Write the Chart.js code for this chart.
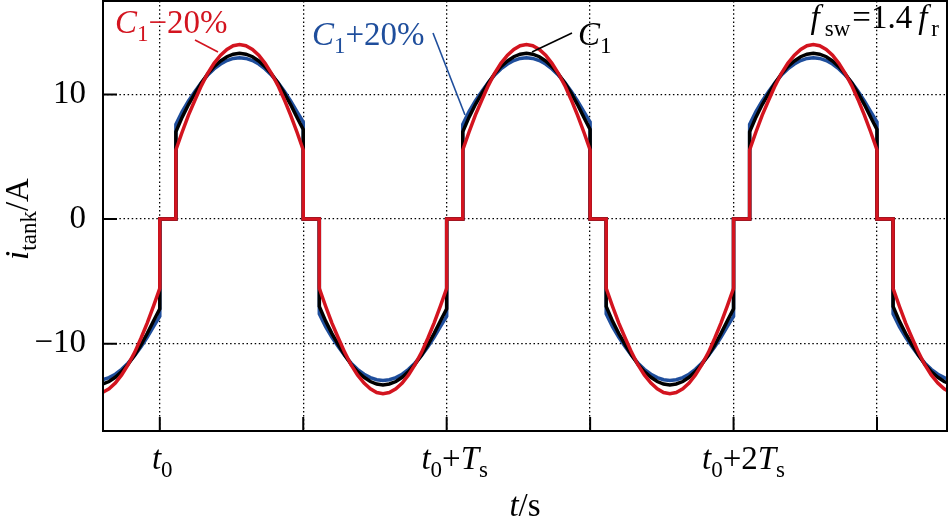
<!DOCTYPE html>
<html><head><meta charset="utf-8">
<script src="https://cdn.jsdelivr.net/npm/chart.js@4/dist/chart.umd.min.js"></script>
<style>html,body{margin:0;padding:0;background:#fff}canvas{display:block}</style>
</head><body>
<canvas id="c" width="949" height="520"></canvas>
<script>
// ---- data (time in % of Ts, t0 = 0) ----
const switchTimes = [-50, 0, 50, 100, 150, 200, 250];   // start of each half period
const halfSign    = [-1, 1, -1, 1, -1, 1, -1];           // polarity of each half period
const deadTime    = 5.6;                                 // zero-current interval after each switching
const arcOffsets  = [0, 2.2, 4.4, 6.7, 8.9, 11.1, 13.3, 15.6, 17.8, 20, 22.2,
                     24.4, 26.7, 28.9, 31.1, 33.3, 35.6, 37.8, 40, 42.2, 44.4];
// current magnitude (A) along one half-period arc
const iPlus20  = [7.6, 8.62, 9.48, 10.26, 10.96, 11.56, 12.05, 12.44, 12.72, 12.89, 12.95,
                  12.89, 12.72, 12.44, 12.05, 11.56, 10.96, 10.26, 9.48, 8.62, 7.8];
const iNominal = [7.0, 8.18, 9.19, 10.10, 10.93, 11.65, 12.23, 12.69, 13.03, 13.23, 13.3,
                  13.23, 13.03, 12.69, 12.23, 11.65, 10.93, 10.10, 9.19, 8.18, 7.2];
const iMinus20 = [5.55, 6.99, 8.34, 9.58, 10.71, 11.70, 12.50, 13.15, 13.62, 13.91, 14.0,
                  13.91, 13.62, 13.15, 12.50, 11.70, 10.71, 9.58, 8.34, 6.99, 5.55];
const seriesNames = ['C1+20%', 'C1', 'C1−20%'];
const xTicks = [0, 50, 100, 150, 200, 250];
const xTickLabels = [
  [{t:'t',i:1},{t:'0',s:1}], null,
  [{t:'t',i:1},{t:'0',s:1},{t:'+'},{t:'T',i:1},{t:'s',s:1}], null,
  [{t:'t',i:1},{t:'0',s:1},{t:'+2'},{t:'T',i:1},{t:'s',s:1}], null
];
const yTicks = [-10, 0, 10];

// ---- helpers ----
function buildTrace(arc){
  const pts = [];
  switchTimes.forEach((s, h) => {
    pts.push({x: s, y: 0}, {x: s + deadTime, y: 0});
    arcOffsets.forEach((o, k) => pts.push({x: s + deadTime + o, y: halfSign[h] * arc[k]}));
  });
  return pts;
}
const FONT = '"Liberation Serif", "Times New Roman", serif';
const BIG = 33, SMALL = 23, SUBSHIFT = 8;
function fontOf(sg){ return (sg.i ? 'italic ' : '') + (sg.s ? SMALL : BIG) + 'px ' + FONT; }
function drawRich(ctx, segs, x, y, align, color){
  let w = 0;
  segs.forEach(sg => { ctx.font = fontOf(sg); sg.w = ctx.measureText(sg.t).width + (sg.g || 0); w += sg.w; });
  let cx = align === 'center' ? x - w/2 : align === 'right' ? x - w : x;
  ctx.fillStyle = color; ctx.textBaseline = 'alphabetic'; ctx.textAlign = 'left';
  segs.forEach(sg => { ctx.font = fontOf(sg); ctx.fillText(sg.t, cx, y + (sg.s ? SUBSHIFT : 0)); cx += sg.w; });
  return w;
}

const RED = '#d3141f', BLUE = '#1f4e9c', BLACK = '#000000';

const decor = {
  id: 'decor',
  afterDatasetsDraw(chart){
    const ctx = chart.ctx, a = chart.chartArea;
    const xs = chart.scales.x, ys = chart.scales.y;
    ctx.save();
    // frame
    ctx.strokeStyle = '#000'; ctx.lineWidth = 2; ctx.setLineDash([]);
    ctx.strokeRect(a.left, a.top, a.right - a.left, a.bottom - a.top);
    // inward ticks
    ctx.beginPath();
    yTicks.forEach(v => { const p = ys.getPixelForValue(v); ctx.moveTo(a.left, p); ctx.lineTo(a.left + 14, p); });
    xTicks.forEach(v => { const p = xs.getPixelForValue(v); ctx.moveTo(p, a.bottom); ctx.lineTo(p, a.bottom - 14); });
    ctx.stroke();
    // x tick labels
    xTickLabels.forEach((lab, k) => {
      if (!lab) return;
      const p = xs.getPixelForValue(xTicks[k]);
      let w = 0; lab.forEach(sg => { ctx.font = fontOf(sg); w += ctx.measureText(sg.t).width; });
      drawRich(ctx, lab, p + w * 0.12, 469, 'center', BLACK);
    });
    // axis titles
    drawRich(ctx, [{t:'t',i:1},{t:'/s'}], (a.left + a.right)/2, 516, 'center', BLACK);
    ctx.save();
    ctx.translate(28, 219); ctx.rotate(-Math.PI/2);
    drawRich(ctx, [{t:'i',i:1},{t:'tank',s:1},{t:'/A'}], 0, 0, 'center', BLACK);
    ctx.restore();
    // annotations
    drawRich(ctx, [{t:'C',i:1},{t:'1',s:1},{t:'−20%'}], 115, 33, 'left', RED);
    drawRich(ctx, [{t:'C',i:1},{t:'1',s:1},{t:'+20%'}], 312, 45, 'left', BLUE);
    drawRich(ctx, [{t:'C',i:1},{t:'1',s:1}], 578, 45, 'left', BLACK);
    drawRich(ctx, [{t:'f',i:1,g:5},{t:'sw',s:1,g:2},{t:'=1.4',g:6},{t:'f',i:1,g:4},{t:'r',s:1}], 939, 28, 'right', BLACK);
    // leader lines
    ctx.lineWidth = 1.6;
    ctx.strokeStyle = RED;  ctx.beginPath(); ctx.moveTo(195, 40); ctx.lineTo(218, 52); ctx.stroke();
    ctx.strokeStyle = BLUE; ctx.beginPath(); ctx.moveTo(433, 33); ctx.lineTo(465, 115); ctx.stroke();
    ctx.strokeStyle = BLACK;ctx.beginPath(); ctx.moveTo(572, 33); ctx.lineTo(532, 52); ctx.stroke();
    ctx.restore();
  }
};

const mk = (label, arc, color, order) => ({
  label, data: buildTrace(arc), borderColor: color, backgroundColor: color, order,
  borderWidth: 3.5, pointRadius: 0, tension: 0, fill: false, clip: 0
});

new Chart(document.getElementById('c'), {
  type: 'line',
  data: { datasets: [
    mk(seriesNames[0], iPlus20, BLUE, 3),
    mk(seriesNames[1], iNominal, BLACK, 2),
    mk(seriesNames[2], iMinus20, RED, 1)
  ]},
  options: {
    responsive: false, animation: false, devicePixelRatio: 1,
    layout: { padding: { top: 1, right: 2, left: 0, bottom: 0 } },
    plugins: { legend: { display: false }, tooltip: { enabled: false } },
    scales: {
      x: {
        type: 'linear', min: -19.8, max: 274.4,
        afterBuildTicks: s => { s.ticks = xTicks.map(v => ({value: v})); },
        afterFit: s => { s.height = 89; s.paddingLeft = 0; s.paddingRight = 0; },
        ticks: { display: false },
        grid: { color: '#000', lineWidth: 1.3, drawTicks: false },
        border: { display: false, dash: [1.5, 2.6] }
      },
      y: {
        type: 'linear', min: -17, max: 17.5,
        afterBuildTicks: s => { s.ticks = yTicks.map(v => ({value: v})); },
        afterFit: s => { s.width = 103; s.paddingTop = 0; s.paddingBottom = 0; },
        ticks: {
          color: '#000', padding: 17, font: { family: FONT, size: BIG },
          callback: v => v < 0 ? '−' + Math.abs(v) : String(v)
        },
        grid: { color: '#000', lineWidth: 1.3, drawTicks: false },
        border: { display: false, dash: [1.5, 2.6] }
      }
    }
  },
  plugins: [decor]
});
</script>
</body></html>
